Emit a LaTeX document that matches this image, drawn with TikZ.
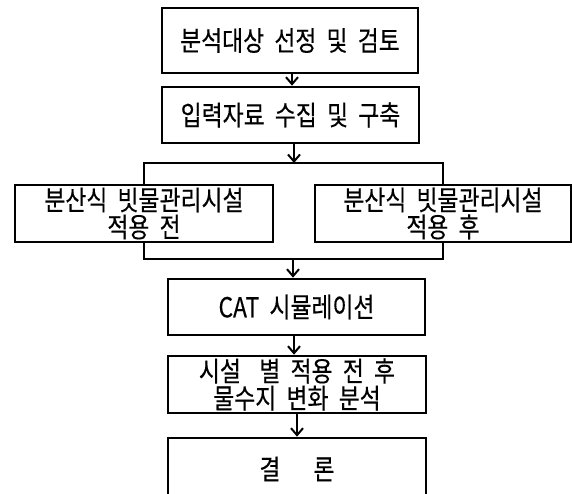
\documentclass[tikz,border=0pt]{standalone}
\usepackage{fontspec}
\setmainfont{Noto Sans CJK KR}[FakeStretch=0.83,WordSpace=2.0,FakeBold=0.35]
\usetikzlibrary{arrows.meta}
\begin{document}
\begin{tikzpicture}[x=1pt,y=-1pt,
  box/.style={draw=black,line width=2.6pt,inner sep=0pt,align=center,font=\fontsize{27.5}{27}\selectfont},
  conn/.style={line width=2pt},
  arr/.style={line width=2pt,-{Straight Barb[length=7pt,width=12pt,line width=2pt]}}]
\useasboundingbox (0,0) rectangle (572,494);
\node[box,minimum width=256pt,minimum height=65pt] (b1) at (290,40.5) {분석대상 선정 및 검토};
\node[box,minimum width=257pt,minimum height=56pt] (b2) at (290.5,115) {입력자료 수집 및 구축};
\node[box,minimum width=258pt,minimum height=57pt] (L) at (144,213.5) {분산식 빗물관리시설\\적용 전};
\node[box,minimum width=256pt,minimum height=57pt] (R) at (443,213.5) {분산식 빗물관리시설\\적용 후};
\node[box,minimum width=257pt,minimum height=56pt] (cat) at (296.5,307) {CAT 시뮬레이션};
\node[box,minimum width=258pt,minimum height=57pt] (b5) at (297,384.5) {시설\hspace{0.3em} 별 적용 전 후\\물수지 변화 분석};
\node[box,minimum width=258pt,minimum height=62pt] (b6) at (297,469) {결\hspace{1.2em}론};
\coordinate (tj) at (294,163);
\coordinate (bj) at (293,259);
\draw[arr] (b1.south -| 292,0) -- (b2.north -| 292,0);
\draw[conn] (L.north) -- (L.north |- tj) -- (R.north |- tj) -- (R.north);
\draw[arr] (tj |- b2.south) -- (tj);
\draw[conn] (L.south) -- (L.south |- bj) -- (R.south |- bj) -- (R.south);
\draw[arr] (bj) -- (bj |- cat.north);
\draw[arr] (cat.south -| 294,0) -- (b5.north -| 294,0);
\draw[arr] (b5.south -| 297,0) -- (b6.north -| 297,0);
\end{tikzpicture}
\end{document}
